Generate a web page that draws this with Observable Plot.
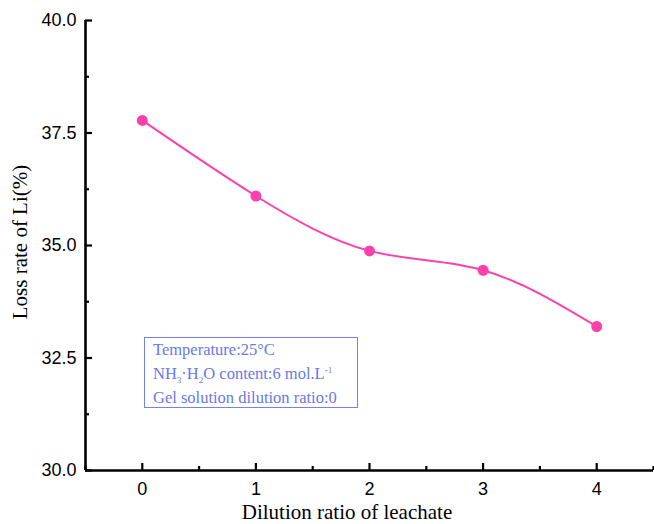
<!DOCTYPE html>
<html><head><meta charset="utf-8">
<script src="https://cdn.jsdelivr.net/npm/d3@7"></script>
<script src="https://cdn.jsdelivr.net/npm/@observablehq/plot@0.6"></script>
<style>
body{margin:0;background:#fff;}
#wrap{position:relative;width:654px;height:524px;overflow:hidden;}
.note{position:absolute;left:144px;top:337px;width:214px;height:71px;box-sizing:border-box;border:1.3px solid #7282f0;color:#6878ec;font-family:"Liberation Serif",serif;font-size:16.5px;line-height:24px;padding:0 0 0 8px;white-space:nowrap;}
.note sub,.note sup{font-size:9px;line-height:0;}
.xt{position:absolute;left:0;width:694px;top:500px;text-align:center;font-family:"Liberation Serif",serif;font-size:21px;}
.yt{position:absolute;left:-100px;top:230px;width:240px;text-align:center;font-family:"Liberation Serif",serif;font-size:21px;transform:rotate(-90deg);line-height:24px;}
</style>
</head><body>
<div id="wrap"></div>
<script>
const dilution = [0, 1, 2, 3, 4];
const lossRate = [37.78, 36.10, 34.88, 34.45, 33.20];
const xMajor = [0, 1, 2, 3, 4];
const xMinor = [-0.5, 0.5, 1.5, 2.5, 3.5, 4.5];
const yMajor = [30, 32.5, 35, 37.5, 40];
const yMinor = [31.25, 33.75, 36.25, 38.75];
const xTitle = "Dilution ratio of leachate";
const yTitle = "Loss rate of Li(%)";
const noteLines = ["Temperature:25\u00B0C", "NH<sub>3</sub>\u00B7H<sub>2</sub>O content:6 mol.L<sup>-1</sup>", "Gel solution dilution ratio:0"];

const data = dilution.map((d, i) => ({x: d, y: lossRate[i]}));
const col = "#ff40ab";

const chart = Plot.plot({
  width: 654, height: 524,
  marginLeft: 85, marginRight: 1, marginTop: 20, marginBottom: 54,
  x: {domain: [-0.5, 4.5]},
  y: {domain: [30, 40]},
  style: {fontFamily: "Liberation Sans, Arial, sans-serif", fontSize: "18px", color: "#000", background: "#fff"},
  marks: [
    Plot.axisX(xMajor, {tickSize: 0, tickPadding: 12, label: null, tickFormat: d3.format("d"), fill: "#000", fontSize: 18}),
    Plot.axisY(yMajor, {tickSize: 0, tickPadding: 9, label: null, tickFormat: d3.format(".1f"), fill: "#000", fontSize: 18}),
    Plot.ruleX(xMajor, {x: d => d, y1: 30, y2: 30, insetTop: -7, strokeWidth: 2.2, stroke: "#000"}),
    Plot.ruleX(xMinor, {x: d => d, y1: 30, y2: 30, insetTop: -4, strokeWidth: 2.2, stroke: "#000"}),
    Plot.ruleY(yMajor, {y: d => d, x1: -0.5, x2: -0.5, insetRight: -7, strokeWidth: 2.2, stroke: "#000"}),
    Plot.ruleY(yMinor, {y: d => d, x1: -0.5, x2: -0.5, insetRight: -4, strokeWidth: 2.2, stroke: "#000"}),
    Plot.ruleY([30], {strokeWidth: 2.6, stroke: "#000"}),
    Plot.ruleX([-0.5], {strokeWidth: 2.6, stroke: "#000"}),
    Plot.line(data, {x: "x", y: "y", curve: "natural", stroke: col, strokeWidth: 2}),
    Plot.dot(data, {x: "x", y: "y", r: 5.5, fill: col, stroke: "none"})
  ]
});
const wrap = document.getElementById("wrap");
wrap.appendChild(chart);
const note = document.createElement("div");
note.className = "note";
note.innerHTML = noteLines.map(l => `<div>${l}</div>`).join("");
wrap.appendChild(note);
const xt = document.createElement("div");
xt.className = "xt"; xt.textContent = xTitle; wrap.appendChild(xt);
const yt = document.createElement("div");
yt.className = "yt"; yt.textContent = yTitle; wrap.appendChild(yt);
</script>
</body></html>
